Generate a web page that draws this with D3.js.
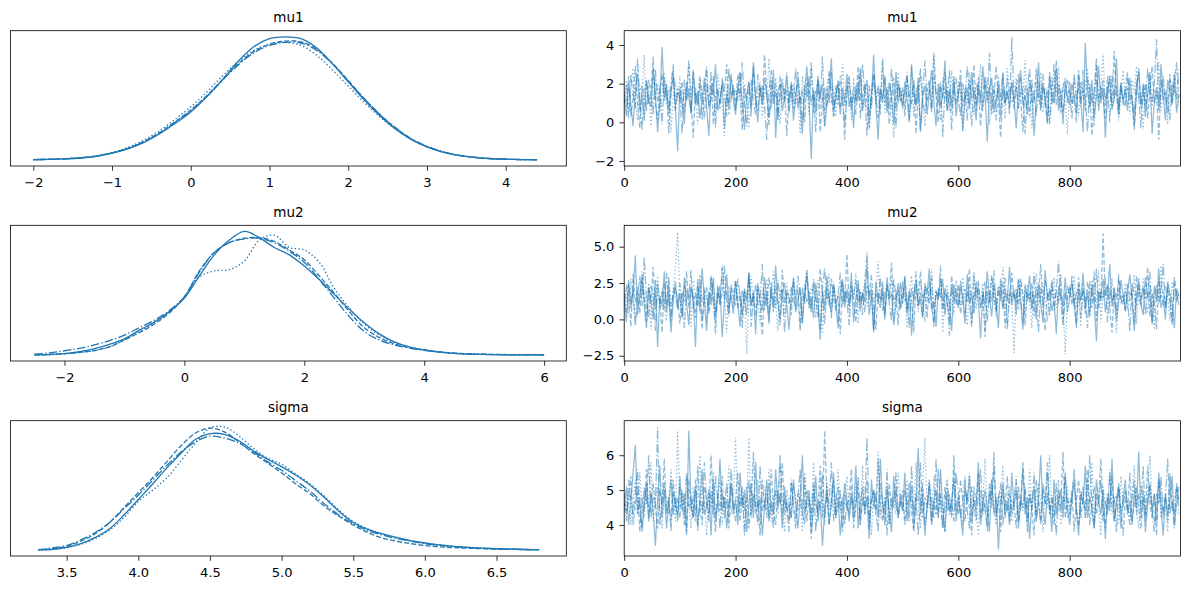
<!DOCTYPE html>
<html>
<head>
<meta charset="utf-8">
<script src="https://cdn.jsdelivr.net/npm/d3@7"></script>
<style>
  body { margin: 0; background: #fff; }
  svg text { font-family: "DejaVu Sans", sans-serif; fill: #000; }
</style>
</head>
<body>
<svg id="chart" width="1190" height="590"></svg>
<script>
// ---------------- data ----------------
const varNames = ["mu1", "mu2", "sigma"];

// kde grids (x) and relative density per chain (chain 0..3)
const mu1Grid = [-2.0,-1.8,-1.6,-1.4,-1.2,-1.0,-0.8,-0.6,-0.4,-0.2,0,0.2,0.4,0.6,0.8,1.0,1.2,1.4,1.6,1.8,2.0,2.2,2.4,2.6,2.8,3.0,3.2,3.4,3.6,3.8,4.0,4.2,4.4];
const mu1Kde = [
  [.002,.004,.008,.015,.029,.055,.09,.14,.21,.295,.39,.51,.65,.80,.92,.985,1.0,.985,.91,.78,.635,.49,.36,.25,.165,.105,.063,.036,.02,.01,.005,.002,.001],
  [.002,.004,.009,.017,.031,.057,.095,.148,.22,.31,.405,.52,.65,.78,.88,.94,.965,.96,.90,.785,.645,.50,.37,.26,.17,.108,.065,.037,.02,.01,.005,.002,.001],
  [.002,.004,.008,.016,.03,.056,.093,.145,.215,.305,.40,.515,.645,.77,.87,.93,.955,.95,.89,.78,.64,.50,.37,.26,.172,.11,.067,.038,.021,.011,.005,.002,.001],
  [.002,.005,.01,.018,.033,.06,.10,.16,.235,.33,.43,.55,.68,.80,.89,.94,.955,.93,.85,.73,.60,.47,.35,.25,.165,.105,.064,.037,.02,.01,.005,.002,.001]
];
const mu2Grid = [-2.5,-2.25,-2,-1.75,-1.5,-1.25,-1,-0.75,-0.5,-0.25,0,0.25,0.5,0.75,1,1.25,1.5,1.75,2,2.25,2.5,2.75,3,3.25,3.5,3.75,4,4.25,4.5,4.75,5,5.25,5.5,5.75,6];
const mu2Kde = [
  [0,.002,.01,.025,.05,.085,.13,.20,.265,.35,.46,.64,.81,.93,1.0,.95,.87,.81,.72,.61,.49,.37,.26,.17,.105,.065,.04,.022,.012,.006,.003,.001,0,0,0],
  [0,.003,.01,.02,.035,.065,.12,.18,.25,.34,.47,.68,.83,.91,.945,.95,.92,.85,.77,.64,.50,.35,.22,.14,.09,.06,.04,.024,.014,.008,.005,.003,.002,.002,.001],
  [.005,.015,.033,.052,.08,.115,.16,.22,.28,.36,.47,.67,.83,.91,.94,.945,.91,.84,.75,.61,.46,.31,.19,.12,.08,.055,.037,.022,.012,.006,.003,.001,0,0,0],
  [0,.002,.008,.018,.035,.065,.12,.19,.265,.35,.47,.63,.68,.69,.76,.93,.97,.87,.85,.75,.54,.38,.25,.16,.10,.065,.04,.024,.014,.008,.004,.002,.001,0,0]
];
const sigmaGrid = [3.3,3.4,3.5,3.6,3.7,3.8,3.9,4.0,4.1,4.2,4.3,4.4,4.5,4.6,4.7,4.8,4.9,5.0,5.1,5.2,5.3,5.4,5.5,5.6,5.7,5.8,5.9,6.0,6.1,6.2,6.3,6.4,6.5,6.6,6.7,6.8];
const sigmaKde = [
  [0,.004,.02,.05,.1,.17,.28,.405,.53,.66,.78,.89,.935,.93,.88,.80,.73,.67,.60,.52,.42,.31,.22,.165,.13,.10,.075,.055,.04,.028,.02,.014,.009,.006,.003,.001],
  [.002,.01,.028,.07,.13,.22,.34,.46,.58,.71,.84,.94,.98,.95,.87,.78,.70,.62,.53,.45,.35,.27,.20,.14,.096,.07,.05,.035,.025,.018,.013,.009,.006,.004,.002,.001],
  [0,.015,.035,.08,.14,.22,.33,.44,.56,.68,.79,.87,.915,.90,.86,.79,.71,.64,.555,.47,.37,.28,.21,.155,.12,.09,.07,.05,.037,.027,.018,.012,.008,.005,.003,.002],
  [0,.003,.018,.045,.09,.16,.26,.39,.48,.58,.72,.86,.98,.99,.92,.82,.74,.69,.61,.53,.43,.32,.23,.17,.13,.10,.075,.055,.04,.028,.02,.013,.009,.006,.003,.001]
];

// traces: every 4th draw of each chain, values in tenths
const drawStep = 4;
const mu1Trace = [
  [12,3,20,9,-2,17,25,6,14,1,22,11,8,28,15,-5,10,39,13,19,4,16,24,7,-15,
   18,10,-1,21,13,5,27,9,16,2,12,23,8,-7,19,14,30,6,11,20,-3,15,9,25,12,
   4,17,26,10,-4,14,21,7,31,12,0,18,9,23,15,3,11,27,-8,16,20,6,13,24,10,
   19,1,14,22,8,-6,16,29,11,-19,17,5,24,12,20,-2,9,15,33,7,13,21,4,18,10,
   25,8,14,-3,19,11,28,6,16,22,2,13,35,9,-9,17,12,24,5,20,14,-1,26,10,18,
   7,21,12,0,30,15,9,23,-5,13,19,4,16,27,11,-2,20,8,14,32,6,17,10,24,3,
   15,22,-4,11,18,7,26,13,1,20,9,29,14,-10,17,23,5,12,19,2,25,10,16,8,21,
   12,-3,18,27,9,14,4,22,16,-7,11,31,7,19,13,0,24,15,10,28,6,17,-1,21,13,
   9,20,14,5,25,11,-5,41,16,8,22,2,13,29,10,18,-8,15,24,7,12,33,4,19,11,
   17,6,23,12,-2,15,28,9,20,3,14,26,-6,11,18,8,30,13,1,22,16,10,25,5,14],
  [16,8,24,3,13,29,10,-3,19,12,6,22,15,34,9,1,17,25,11,20,-6,14,27,7,18,
   11,21,5,15,32,12,-8,18,9,24,14,2,20,10,26,-1,13,17,7,23,16,30,4,12,19,
   8,25,14,-4,17,11,21,3,28,13,6,19,10,35,15,-2,22,9,16,1,24,12,18,-7,14,
   20,7,13,26,10,17,0,23,12,31,5,15,21,-5,11,18,8,27,14,3,19,9,24,13,-9,
   15,22,6,18,11,29,2,14,20,8,-3,16,25,12,19,4,33,10,17,-1,13,23,7,21,11,
   18,3,24,13,9,20,-6,15,28,11,5,17,22,8,36,14,0,19,12,26,6,16,-4,21,10,
   13,27,8,16,1,22,12,30,6,18,-2,14,24,10,19,4,15,29,11,-8,17,9,23,13,20,
   7,17,25,11,-5,19,14,3,22,10,28,15,6,20,12,-1,26,9,16,32,13,5,18,23,10,
   21,9,14,0,27,12,18,6,23,15,-7,11,30,8,19,13,2,24,16,10,37,14,4,20,12,
   8,23,15,11,-4,18,26,7,13,20,2,16,29,10,14,-9,22,12,17,5,25,9,19,31,13],
  [10,19,2,25,14,7,33,12,-4,17,21,9,15,4,27,11,18,-1,23,13,8,20,30,6,16,
   14,-6,22,11,18,5,26,13,9,20,1,16,29,7,12,24,-3,17,10,21,15,3,28,12,19,
   6,18,13,31,9,-2,15,22,11,4,25,14,19,8,-9,16,27,12,20,2,14,23,10,17,5,
   21,11,28,7,15,0,19,13,24,9,16,-5,22,12,34,6,18,10,26,3,15,20,8,13,-1,
   17,24,9,14,4,21,11,30,15,-7,19,7,25,13,2,18,10,23,16,6,28,12,-3,20,14,
   9,16,26,1,13,22,8,19,-4,15,32,11,17,5,24,14,10,21,-8,18,12,27,6,16,23,
   13,3,20,11,29,15,-2,18,9,24,14,6,22,12,36,8,17,1,21,13,26,10,16,4,44,
   11,19,7,23,14,-6,17,28,10,15,3,21,12,25,8,18,-1,14,30,9,20,13,5,16,22,
   15,2,24,12,18,8,27,13,-5,20,10,16,33,6,14,22,11,19,0,25,12,17,7,21,9,
   18,26,10,14,4,22,13,-3,19,8,28,15,11,20,43,6,16,24,9,13,1,21,17,12,27],
  [13,22,6,17,28,10,1,19,14,35,8,16,-2,23,12,20,5,15,26,9,18,-5,13,21,11,
   24,7,16,12,30,4,19,14,-1,22,10,17,27,8,13,20,3,25,15,11,-7,18,9,23,14,
   17,11,26,5,20,13,-3,16,29,9,14,21,2,18,12,33,7,15,23,10,-1,19,13,26,6,
   12,20,9,15,-6,24,13,18,4,28,11,16,21,7,14,-2,19,25,10,17,3,22,12,30,8,
   19,14,1,23,11,17,27,6,15,20,-4,13,24,9,18,12,31,5,16,21,10,-8,14,26,11,
   16,8,22,13,29,3,18,12,25,10,-2,15,20,7,34,14,17,1,23,11,19,6,27,13,9,
   21,15,-5,18,10,26,12,4,20,14,30,8,16,23,-1,13,19,9,24,11,17,2,28,15,10,
   14,23,7,17,12,32,9,19,-3,15,21,11,26,5,18,13,0,24,10,16,29,8,20,12,-6,
   17,10,25,14,3,21,12,18,28,7,15,-2,22,11,19,35,9,14,24,6,16,20,1,13,27,
   11,18,4,22,15,29,10,16,-4,20,13,25,8,17,12,31,6,19,14,-1,23,11,26,15,9]
];
const mu2Trace = [
  [14,-2,25,8,19,44,3,17,30,10,-6,22,13,0,27,-19,16,9,33,5,20,-9,12,26,7,
   18,1,29,11,-4,21,15,-19,24,6,35,13,-8,19,10,28,2,16,23,-12,12,31,8,17,4,
   26,11,-5,20,14,3,32,9,18,-10,23,12,6,29,15,-1,21,8,37,13,0,19,25,10,-7,
   16,28,5,13,22,-3,18,34,9,15,1,25,12,-14,20,7,30,14,4,23,11,-6,17,27,8,
   21,10,32,-2,15,24,6,19,12,38,3,17,-9,26,13,8,22,0,29,14,18,-4,11,25,7,
   13,30,4,20,-11,16,27,9,14,1,23,18,35,6,12,-5,21,15,28,3,19,10,-8,24,16,
   8,22,15,-3,31,11,18,4,26,13,-13,20,9,33,16,2,24,12,-6,28,7,17,14,36,10,
   19,3,27,12,-7,22,15,30,8,17,0,25,11,-2,34,14,20,6,13,-10,23,16,9,29,5,
   15,26,10,-4,21,13,32,7,18,2,24,11,-15,19,14,28,5,16,38,9,22,-1,12,27,17,
   6,20,31,13,-8,17,24,10,3,29,15,19,-3,23,12,35,8,14,0,26,18,11,-6,21,16],
  [9,24,15,-5,31,12,20,4,27,16,-1,22,11,36,7,18,13,-9,25,10,29,3,17,21,14,
   -3,19,12,33,8,23,15,1,28,11,-7,20,16,6,30,13,-2,24,9,18,37,12,4,22,15,
   27,7,17,-6,21,14,32,10,19,2,25,13,-11,18,9,29,16,5,23,12,-4,34,11,20,15,
   3,26,14,19,-8,22,11,30,16,7,24,13,1,35,18,-3,21,10,28,15,6,17,-10,25,12,
   45,9,20,14,-2,27,12,18,5,23,16,31,8,-7,19,13,26,2,21,15,39,10,17,-4,24,
   11,29,6,18,14,-9,23,16,33,9,20,1,26,12,-5,19,15,28,7,22,13,-1,30,17,10,
   24,4,16,21,12,35,-3,19,14,27,8,17,-12,23,11,30,15,5,20,13,26,-6,18,10,32,
   14,21,7,28,16,-4,19,12,25,2,22,15,38,9,-8,18,13,27,6,20,11,31,-2,17,14,
   23,10,18,-6,29,13,20,4,26,15,8,33,-1,19,12,59,16,24,7,-9,21,14,28,11,17,
   5,25,13,19,-3,30,16,9,22,14,36,2,18,11,-7,27,15,20,8,24,12,-4,29,17,10],
  [18,5,27,12,21,-4,15,30,9,43,14,1,23,17,-8,26,11,19,6,32,13,-2,22,16,8,
   25,12,-6,20,15,34,7,18,10,27,-1,16,22,4,29,13,-10,21,11,36,14,19,2,24,15,
   9,28,16,3,20,12,31,-5,17,23,10,14,38,6,19,-3,25,13,8,27,15,21,-9,18,11,
   22,14,7,30,17,-2,24,12,19,5,28,15,10,-7,21,35,13,18,1,26,11,16,32,9,20,
   13,-4,23,16,27,10,19,3,25,46,14,21,-8,18,12,30,6,17,24,11,-1,28,15,20,8,
   26,12,17,-6,22,14,33,9,19,2,25,16,11,29,-3,20,13,37,7,18,15,-11,24,12,21,
   10,27,15,4,20,13,-5,31,17,22,8,14,26,-1,19,12,34,6,23,16,9,29,-7,18,14,
   21,11,28,16,-3,24,13,19,7,32,15,-9,22,10,27,18,2,25,14,20,40,12,-4,17,23,
   15,30,9,18,24,1,21,13,-6,26,16,11,35,8,19,14,28,-2,22,12,17,4,31,15,10,
   20,13,-8,25,17,9,29,14,22,3,18,33,-4,16,24,11,19,38,7,21,14,-1,27,12,18],
  [12,20,4,28,15,-3,22,11,33,17,8,25,-7,19,13,30,6,21,14,-1,26,10,18,35,60,
   15,2,24,13,19,-6,27,16,9,31,12,22,-2,18,14,29,5,20,11,37,16,-9,23,13,8,
   26,14,19,3,21,-24,17,30,10,24,15,-4,20,12,28,7,18,33,11,-8,22,16,2,25,14,
   9,29,16,21,-5,18,12,34,7,23,15,1,27,13,-10,20,17,31,10,24,14,-2,19,28,12,
   18,6,25,15,32,-3,21,13,27,9,16,22,-7,19,40,12,17,4,24,14,29,-1,20,11,26,
   14,23,-6,18,30,12,20,5,26,16,-2,22,13,35,9,19,15,28,-9,17,24,11,21,3,27,
   16,10,29,14,-4,22,18,33,7,20,13,25,-8,17,11,30,15,2,23,19,36,12,-3,21,14,
   -23,19,12,27,16,4,24,14,-6,21,32,10,18,25,13,-1,22,15,29,8,17,20,11,-24,16,
   22,13,30,9,18,-5,25,14,20,3,27,15,11,34,-2,19,16,23,8,28,13,-9,21,17,12,
   25,7,19,15,31,-3,22,12,28,16,4,24,18,-7,20,13,37,10,23,15,-1,26,14,19,11]
];
const sigmaTrace = [
  [45,51,40,47,55,63,43,48,38,46,52,41,49,44,34,47,57,42,50,39,46,53,43,48,41,
   54,44,49,38,67,46,42,51,40,47,56,43,45,50,37,53,41,47,59,44,48,39,46,52,43,
   47,40,55,45,50,38,46,52,42,58,44,48,37,45,53,41,47,43,56,45,49,39,51,44,46,
   42,53,46,39,48,60,43,47,50,38,45,54,41,47,34,44,51,40,46,55,42,48,37,45,52,
   47,41,49,44,57,39,46,51,43,48,36,53,45,49,42,59,46,40,50,44,38,54,46,43,49,
   44,55,41,48,51,39,46,62,43,49,37,45,52,40,47,50,42,56,45,38,49,44,47,53,41,
   48,43,37,51,46,54,41,47,44,58,40,46,50,45,38,53,43,48,33,46,52,42,47,40,55,
   45,50,39,47,56,43,48,36,46,51,41,47,60,44,40,49,46,38,53,43,47,50,42,55,45,
   40,48,52,44,37,49,46,57,42,48,45,39,53,47,43,50,36,48,44,59,41,46,51,39,48,
   53,43,47,40,50,45,61,42,48,38,46,52,44,49,41,55,45,37,49,43,47,54,40,46,51],
  [49,43,47,54,40,46,51,38,48,44,56,42,47,52,45,39,50,46,59,43,47,41,53,45,48,
   42,50,46,37,53,44,48,41,57,45,40,51,47,43,60,46,38,49,44,54,42,47,39,52,45,
   47,55,41,48,44,51,39,46,61,43,47,37,53,45,49,42,56,44,40,50,46,58,43,47,41,
   52,45,39,49,47,43,54,41,48,36,51,46,44,57,42,67,48,40,47,53,43,45,50,38,49,
   44,48,56,42,46,51,40,47,45,53,39,47,50,43,59,46,41,48,37,52,45,47,55,42,46,
   50,40,46,52,44,38,49,47,58,42,48,45,53,41,47,43,56,46,39,51,44,49,42,60,46,
   43,53,47,41,49,45,37,51,46,55,42,48,44,40,52,47,57,43,48,38,50,45,54,41,47,
   46,39,51,44,58,47,42,49,45,37,53,47,41,50,46,55,43,48,40,52,44,46,61,42,48,
   45,50,38,47,53,42,48,44,56,40,46,51,43,47,59,45,39,49,46,54,41,47,52,44,37,
   48,44,55,41,46,51,45,39,50,43,57,46,42,49,37,53,47,44,48,41,54,46,43,51,47],
  [46,41,53,47,43,49,56,44,39,51,46,60,42,48,45,68,40,47,52,44,48,38,50,46,43,
   51,47,40,55,45,48,42,53,38,47,44,58,46,41,50,43,54,47,39,49,45,52,42,56,46,
   41,48,45,51,37,47,53,43,49,46,40,57,44,47,42,52,45,39,50,47,60,43,48,44,38,
   53,46,42,48,56,44,40,50,47,43,52,38,47,45,55,42,49,46,58,41,47,51,44,48,40,
   47,43,51,39,46,54,42,48,45,65,41,47,50,44,38,52,46,43,56,40,48,45,51,42,47,
   44,50,46,41,57,43,48,37,47,52,40,45,51,47,42,59,44,49,39,46,53,43,47,41,55,
   49,42,47,54,44,39,51,46,41,48,56,43,47,38,50,45,61,42,47,52,40,46,44,49,43,
   47,53,41,48,45,51,38,49,44,55,42,47,40,52,46,58,43,48,45,37,50,44,47,54,42,
   43,48,56,45,40,47,51,42,48,60,44,39,49,46,53,41,47,43,55,45,48,38,51,44,47,
   50,45,40,48,53,43,49,46,57,41,47,51,44,38,49,46,54,42,48,59,43,47,39,52,45],
  [48,44,50,40,47,53,43,55,46,42,49,45,58,41,48,51,44,39,52,46,43,56,47,41,67,
   45,49,42,54,47,39,51,44,48,60,43,47,37,50,45,55,42,47,53,40,48,46,57,43,47,
   65,43,47,50,39,46,65,42,48,45,53,40,47,51,44,56,41,47,49,43,59,45,38,50,46,
   42,52,47,44,49,38,55,45,48,41,58,46,43,51,47,40,53,44,47,50,42,56,45,39,48,
   54,44,47,41,51,46,40,57,43,48,45,37,50,47,61,42,47,44,52,40,46,49,43,55,45,
   47,41,53,45,49,43,58,46,39,51,65,44,47,41,54,46,42,49,45,38,52,47,43,56,44,
   48,45,40,51,47,55,43,48,44,37,50,46,59,42,47,53,44,40,49,46,57,43,47,51,41,
   46,54,42,47,44,50,39,56,45,48,43,52,47,38,49,45,60,42,47,44,53,40,48,46,51,
   43,47,55,44,40,50,46,42,53,47,58,41,48,45,37,51,46,44,56,43,47,49,40,54,45,
   50,46,42,48,57,44,39,52,47,43,49,60,45,41,47,53,42,48,46,38,55,44,47,51,43]
];

// tick labels
const mu1KdeTicks = [-2, -1, 0, 1, 2, 3, 4];
const mu2KdeTicks = [-2, 0, 2, 4, 6];
const sigmaKdeTicks = [3.5, 4.0, 4.5, 5.0, 5.5, 6.0, 6.5];
const drawTicks = [0, 200, 400, 600, 800];
const mu1TraceTicks = [-2, 0, 2, 4];
const mu2TraceTicks = [-2.5, 0, 2.5, 5];
const sigmaTraceTicks = [4, 5, 6];

// ---------------- layout ----------------
const svg = d3.select("#chart");
const blue = "#1f77b4";
const chainDash = [null, "5,2.2", "8.5,2.2,1.4,2.2", "1.4,2.3"];
const rows = [{top: 30.7, bottom: 166}, {top: 225.3, bottom: 361}, {top: 420.7, bottom: 556}];
const leftCol = [10.5, 566.3];
const rightCol = [624.2, 1180.5];

const panels = [
  {grid: mu1Grid, kde: mu1Kde, kdeDomain: [-2.29, 4.77], kdeTicks: mu1KdeTicks, kdeFmt: d3.format("d"),
   trace: mu1Trace, traceDomain: [-2.26, 4.74], traceTicks: mu1TraceTicks, traceFmt: d3.format("d")},
  {grid: mu2Grid, kde: mu2Kde, kdeDomain: [-2.9, 6.37], kdeTicks: mu2KdeTicks, kdeFmt: d3.format("d"),
   trace: mu2Trace, traceDomain: [-2.86, 6.47], traceTicks: mu2TraceTicks, traceFmt: d3.format(".1f")},
  {grid: sigmaGrid, kde: sigmaKde, kdeDomain: [3.108, 6.987], kdeTicks: sigmaKdeTicks, kdeFmt: d3.format(".1f"),
   trace: sigmaTrace, traceDomain: [3.11, 6.99], traceTicks: sigmaTraceTicks, traceFmt: d3.format("d")}
];

function frame(g, x0, x1, top, bottom, title, id) {
  g.append("clipPath").attr("id", id)
    .append("rect").attr("x", x0).attr("y", top).attr("width", x1 - x0).attr("height", bottom - top);
  g.append("text")
    .attr("x", (x0 + x1) / 2).attr("y", top - 8.7)
    .attr("text-anchor", "middle")
    .style("font-size", "13.5px")
    .text(title);
}

function border(g, x0, x1, top, bottom) {
  g.append("rect")
    .attr("x", x0).attr("y", top)
    .attr("width", x1 - x0).attr("height", bottom - top)
    .attr("fill", "none").attr("stroke", "#000").attr("stroke-width", 0.8);
}

function styleAxis(ax) {
  ax.select(".domain").remove();
  ax.selectAll(".tick line").attr("stroke", "#000").attr("stroke-width", 0.8);
  ax.selectAll(".tick text").style("font-size", "13px").attr("fill", "#000");
}

panels.forEach((p, i) => {
  const r = rows[i];
  const g = svg.append("g");

  // ---- left: kde per chain ----
  frame(g, leftCol[0], leftCol[1], r.top, r.bottom, varNames[i], "clipL" + i);
  const x = d3.scaleLinear().domain(p.kdeDomain).range(leftCol);
  const yMax = d3.max(p.kde, c => d3.max(c));
  const y = d3.scaleLinear().domain([-0.05 * yMax, 1.05 * yMax]).range([r.bottom, r.top]);

  const kdeLine = d3.line()
    .x((d, j) => x(p.grid[j]))
    .y(d => y(d))
    .curve(d3.curveCatmullRom);

  g.append("g").attr("clip-path", "url(#clipL" + i + ")")
    .selectAll("path")
    .data(p.kde)
    .enter()
      .append("path")
      .attr("d", kdeLine)
      .attr("fill", "none")
      .attr("stroke", blue)
      .attr("stroke-width", 1.3)
      .attr("stroke-dasharray", (d, c) => chainDash[c]);

  const xa = g.append("g")
    .attr("transform", "translate(0," + r.bottom + ")")
    .call(d3.axisBottom(x).tickValues(p.kdeTicks).tickFormat(p.kdeFmt).tickSize(4.8).tickPadding(7));
  styleAxis(xa);
  border(g, leftCol[0], leftCol[1], r.top, r.bottom);

  // ---- right: trace per chain ----
  frame(g, rightCol[0], rightCol[1], r.top, r.bottom, varNames[i], "clipR" + i);
  const tx = d3.scaleLinear().domain([0, 999]).range(rightCol);
  const ty = d3.scaleLinear().domain(p.traceDomain).range([r.bottom, r.top]);

  const traceLine = d3.line()
    .x((d, j) => tx(j * drawStep))
    .y(d => ty(d / 10));

  g.append("g").attr("clip-path", "url(#clipR" + i + ")")
    .selectAll("path")
    .data(p.trace)
    .enter()
      .append("path")
      .attr("d", traceLine)
      .attr("fill", "none")
      .attr("stroke", blue)
      .attr("stroke-opacity", 0.5)
      .attr("stroke-width", 1.25)
      .attr("stroke-dasharray", (d, c) => chainDash[c]);

  const txa = g.append("g")
    .attr("transform", "translate(0," + r.bottom + ")")
    .call(d3.axisBottom(tx).tickValues(drawTicks).tickFormat(d3.format("d")).tickSize(4.8).tickPadding(7));
  styleAxis(txa);

  const tya = g.append("g")
    .attr("transform", "translate(" + rightCol[0] + ",0)")
    .call(d3.axisLeft(ty).tickValues(p.traceTicks).tickFormat(p.traceFmt).tickSize(4.8).tickPadding(5));
  styleAxis(tya);
  border(g, rightCol[0], rightCol[1], r.top, r.bottom);
});
</script>
</body>
</html>
